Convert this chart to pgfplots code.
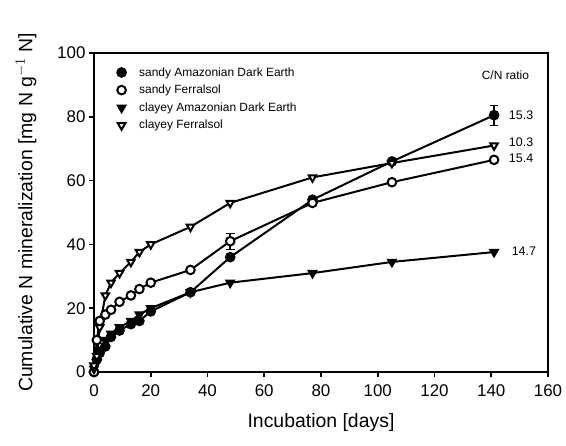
\documentclass[border=0pt]{standalone}
\usepackage{pgfplots}
\pgfplotsset{compat=1.18}
\usepackage{fontspec}
\setmainfont{Liberation Sans}

\begin{document}
\begin{tikzpicture}
\begin{axis}[
  scale only axis, width=454bp, height=319bp,
  xmin=0, xmax=160, ymin=0, ymax=100,
  xtick={0,20,...,160}, ytick={0,20,...,100},
  tick align=outside, xtick pos=bottom, ytick pos=left,
  major tick length=5bp,
  axis line style={line width=2bp}, every tick/.style={line width=1.6bp,black},
  tick label style={font=\fontsize{17}{17}\selectfont},
  xticklabel style={yshift=-4bp},
  /pgf/number format/assume math mode=true,
  xlabel={Incubation [days]},
  ylabel={Cumulative N mineralization [mg N g$^{-1}$ N]},
  label style={font=\fontsize{19.5}{20}\selectfont},
  ylabel style={yshift=14bp},
  xlabel style={yshift=-10bp},
  clip=false,
  legend style={at={(0.035,0.968)}, anchor=north west, draw=none, fill=none,
    font=\fontsize{12}{13}\selectfont, row sep=3.5bp},
  legend cell align=left,
  legend image code/.code={\path[draw=none,use as bounding box] (0cm,-0.1cm) rectangle (0.85cm,0.1cm);
    \draw[#1,only marks] plot coordinates {(0.3cm,0cm)};},
  every axis plot/.append style={black, line width=2bp, mark size=4.3bp,
    mark options={line width=1.8bp}},
]
% sandy Amazonian Dark Earth
\addplot[mark=*, mark options={fill=black}, error bars/.cd, y dir=both, y explicit,
  error bar style={line width=1.6bp}]
  coordinates {(0,0) (1,4) (2,6) (4,8) (6,11) (9,13) (13,15) (16,16) (20,19)
   (34,25) (48,36) (77,54) (105,66) (141,80.5) +- (0,3)};
\addlegendentry{sandy Amazonian Dark Earth}
% sandy Ferralsol
\addplot[mark=*, mark options={fill=white}, error bars/.cd, y dir=both, y explicit,
  error bar style={line width=1.6bp}]
  coordinates {(0,0) (1,10) (2,16) (4,18) (6,19.5) (9,22) (13,24) (16,26) (20,28)
   (34,32) (48,41) +- (0,2.5) (77,53) (105,59.5) (141,66.5)};
\addlegendentry{sandy Ferralsol}
% clayey Amazonian Dark Earth
\addplot[mark=triangle*, mark options={fill=black, rotate=180}]
  coordinates {(0,1) (1,3) (2,7) (4,10) (6,12) (9,14) (13,16) (16,18) (20,20)
   (34,25) (48,28) (77,31) (105,34.5) (141,37.6)};
\addlegendentry{clayey Amazonian Dark Earth}
% clayey Ferralsol
\addplot[mark=triangle*, mark options={fill=white, rotate=180}]
  coordinates {(0,2) (1,5) (2,14) (4,24) (6,28) (9,31) (13,34.5) (16,37.6) (20,40)
   (34,45.5) (48,53) (77,61) (105,65.5) (141,71)};
\addlegendentry{clayey Ferralsol}

\node[font=\fontsize{12}{13}\selectfont] at (axis cs:145,93) {C/N ratio};
\node[anchor=west, font=\fontsize{12.5}{13}\selectfont] at (axis cs:145,80.5) {15.3};
\node[anchor=west, font=\fontsize{12.5}{13}\selectfont] at (axis cs:145,72) {10.3};
\node[anchor=west, font=\fontsize{12.5}{13}\selectfont] at (axis cs:145,67) {15.4};
\node[anchor=west, font=\fontsize{12.5}{13}\selectfont] at (axis cs:146,38) {14.7};

\path (rel axis cs:0,0) ++(-94bp,-74bp) rectangle ++(566bp,446bp);
\end{axis}
\end{tikzpicture}
\end{document}
